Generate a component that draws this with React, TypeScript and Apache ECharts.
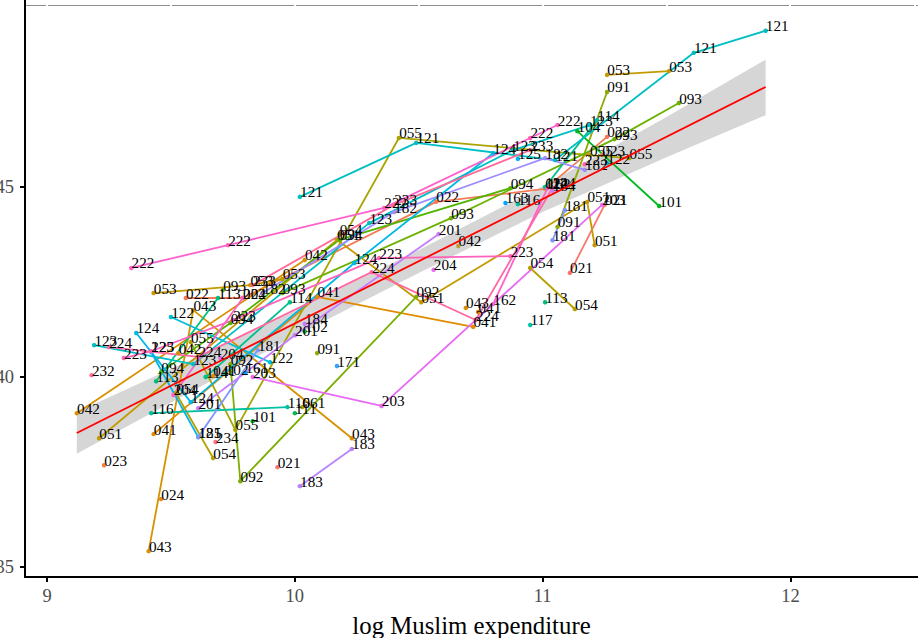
import React, { useEffect, useRef } from "react";
import * as echarts from "echarts";

// [log Muslim expenditure, outcome, optional label override]
const id021a = [[9.93, 37.63]];
const id021b = [[11.11, 42.74], [11.25, 44.53]];
const id022 = [[9.56, 42.08], [9.79, 42.08], [10.57, 44.61], [11.01, 44.95], [11.26, 46.32]];
const id023a = [[9.23, 37.68]];
const id023b = [[11.24, 45.84]];
const id024 = [[9.46, 36.79]];
const id041a = [[9.43, 38.5], [10.09, 42.11], [10.72, 41.32]];
const id041b = [[10.74, 41.71]];
const id041c = [[9.67, 40.03]];
const id042a = [[9.12, 39.05], [10.04, 43.08]];
const id042b = [[10.66, 43.45]];
const id042c = [[9.53, 40.63]];
const id043a = [[9.41, 35.42], [9.59, 41.76], [10.23, 38.39]];
const id043b = [[10.69, 41.82]];
const id051 = [[9.21, 38.39], [10.17, 43.61], [10.51, 41.97], [11.18, 44.61], [11.21, 43.47]];
const id053a = [[9.43, 42.21], [9.82, 42.42], [9.95, 42.58]];
const id053b = [[11.26, 47.95], [11.51, 48.05]];
const id054a = [[9.52, 39.58], [9.67, 37.87]];
const id054b = [[10.95, 42.87], [11.13, 41.79]];
const id054c = [[10.18, 43.76]];
const id055 = [[9.58, 40.92], [9.76, 38.61], [10.42, 46.29], [11.19, 45.84], [11.35, 45.76]];
const id061 = [[10.03, 39.21]];
const id091a = [[10.09, 40.63]];
const id091b = [[11.06, 43.95], [11.26, 47.5]];
const id092 = [[9.74, 40.34], [9.78, 37.26], [10.49, 42.11]];
const id093a = [[9.71, 42.29]];
const id093b = [[9.95, 42.21], [10.63, 44.18], [11.29, 46.26], [11.55, 47.21]];
const id094 = [[9.46, 40.13], [9.74, 41.42], [10.18, 43.61], [10.87, 44.97]];
const id101a = [[11.47, 44.5], [11.14, 46.47, "104"]];
const id101b = [[9.83, 38.84]];
const id102a = [[10.04, 41.2]];
const id102b = [[9.72, 40.08]];
const id111 = [[10.0, 39.05]];
const id113a = [[9.44, 39.89], [9.69, 42.08]];
const id113b = [[11.01, 41.97]];
const id114a = [[9.64, 40.0], [9.98, 41.97]];
const id114b = [[11.01, 45.0], [11.22, 46.76]];
const id116a = [[9.42, 39.05], [9.97, 39.21]];
const id116b = [[10.9, 44.55]];
const id117 = [[10.95, 41.37]];
const id121 = [[10.02, 44.74], [10.49, 46.16], [11.05, 45.71], [11.61, 48.53], [11.9, 49.11]];
const id122a = [[9.5, 41.58], [9.9, 40.39]];
const id122b = [[11.26, 45.63]];
const id123 = [[9.19, 40.84], [9.59, 40.34], [10.3, 44.05], [10.88, 45.97], [11.19, 46.63]];
const id124 = [[9.36, 41.16], [9.58, 39.34], [10.24, 43.0], [10.8, 45.89]];
const id125a = [[9.42, 40.66], [9.61, 38.42]];
const id125b = [[10.9, 45.74]];
const id161 = [[9.8, 40.11]];
const id162 = [[10.8, 41.92], [11.02, 44.97]];
const id163 = [[10.85, 44.58]];
const id171 = [[10.17, 40.29]];
const id181a = [[9.61, 38.42], [9.85, 40.71]];
const id181b = [[11.04, 43.6], [11.09, 44.39]];
const id182 = [[9.87, 42.21], [10.4, 44.34], [11.01, 45.76], [11.17, 45.45]];
const id183 = [[10.02, 37.13], [10.23, 38.11]];
const id184a = [[10.04, 41.4]];
const id184b = [[11.04, 44.9]];
const id201 = [[9.61, 39.18], [10.0, 41.1], [10.58, 43.76]];
const id203 = [[9.83, 40.0], [10.35, 39.24], [11.24, 44.53]];
const id204a = [[9.51, 39.53], [9.79, 42.08]];
const id204b = [[10.56, 42.82]];
const id204c = [[9.7, 40.5]];
const id222 = [[9.34, 42.87], [9.73, 43.47], [10.36, 44.45], [10.95, 46.29], [11.06, 46.63]];
const id223a = [[9.31, 40.5], [9.42, 40.68], [9.75, 41.5], [10.34, 43.13], [10.87, 43.18]];
const id223b = [[11.17, 45.6]];
const id224 = [[9.25, 40.79], [9.61, 40.53], [10.31, 42.76], [10.73, 41.5], [11.04, 44.98]];
const id232 = [[9.18, 40.05]];
const id233 = [[9.83, 42.42], [10.4, 44.53], [10.95, 45.97]];
const id234 = [[9.68, 38.29]];

const groups: [string, any[], string][] = [
  ["021", id021a, "#F8766D"], ["021", id021b, "#F8766D"], ["022", id022, "#F37B59"],
  ["023", id023a, "#ED8141"], ["023", id023b, "#ED8141"], ["024", id024, "#E7861B"],
  ["041", id041a, "#E08B00"], ["041", id041b, "#E08B00"], ["041", id041c, "#E08B00"],
  ["042", id042a, "#D89000"], ["042", id042b, "#BB9D35"], ["042", id042c, "#D89000"],
  ["043", id043a, "#D69100"], ["043", id043b, "#D69100"],
  ["051", id051, "#C49A00"], ["053", id053a, "#C49A00"], ["053", id053b, "#C49A00"],
  ["054", id054a, "#B79F00"], ["054", id054b, "#B79F00"], ["054", id054c, "#B79F00"],
  ["055", id055, "#A9A400"], ["061", id061, "#A3A500"], ["091", id091a, "#8FAA00"],
  ["091", id091b, "#8FAA00"], ["092", id092, "#7CAE00"], ["093", id093a, "#6BB100"],
  ["093", id093b, "#6BB100"], ["094", id094, "#53B400"], ["101", id101a, "#00B81F"],
  ["101", id101b, "#00B81F"], ["102", id102a, "#00BB45"], ["102", id102b, "#00BB45"],
  ["111", id111, "#00BC59"], ["113", id113a, "#00BF7D"], ["113", id113b, "#00BF7D"],
  ["114", id114a, "#00C08B"], ["114", id114b, "#00C08B"], ["116", id116a, "#00C19F"],
  ["116", id116b, "#00C19F"], ["117", id117, "#00C1AB"], ["121", id121, "#00BFC4"],
  ["122", id122a, "#00BCD8"], ["122", id122b, "#00BCD8"], ["123", id123, "#00BFC4"],
  ["124", id124, "#00B8E7"], ["125", id125a, "#00B4EF"], ["125", id125b, "#00B4EF"],
  ["161", id161, "#00A9FF"], ["162", id162, "#FF61CC"], ["163", id163, "#00A9FF"],
  ["171", id171, "#35A2FF"], ["181", id181a, "#7F96FF"], ["181", id181b, "#7F96FF"],
  ["182", id182, "#9F8CFF"], ["183", id183, "#B983FF"], ["184", id184a, "#C77CFF"],
  ["184", id184b, "#C77CFF"], ["201", id201, "#C77CFF"], ["203", id203, "#E76BF3"],
  ["204", id204a, "#FF61C3"], ["204", id204b, "#E76BF3"], ["204", id204c, "#E76BF3"],
  ["222", id222, "#FF61CC"], ["223", id223a, "#FF62BC"], ["223", id223b, "#FF62BC"],
  ["224", id224, "#FF67A4"], ["232", id232, "#FF6C91"], ["233", id233, "#FF6A98"],
  ["234", id234, "#FC717F"],
];

const fitLine = [[9.12, 38.53], [11.9, 47.63]];
const ribbonX = [9.12, 9.5, 10, 10.5, 11, 11.5, 11.9];
const ribbonHigh = [39.08, 40.21, 41.74, 43.34, 45.02, 46.84, 48.35];
const ribbonLow = [37.98, 39.33, 41.08, 42.74, 44.34, 45.78, 46.89];

const xTicks = [9, 10, 11, 12];
const yTicks = [35, 40, 45];
const topSegments = [[26, 46], [48, 170], [172, 294], [296, 418], [420, 542], [544, 666], [668, 789], [791, 914], [916, 918]];

export default function App() {
  const ref = useRef<HTMLDivElement>(null);
  useEffect(() => {
    const chart = echarts.init(ref.current!, undefined, { renderer: "svg" });
    const lineSeries = groups.map(([name, pts, color]) => ({
      type: "line",
      name,
      z: 3,
      silent: true,
      showSymbol: true,
      showAllSymbol: true,
      symbol: "circle",
      symbolSize: 4.5,
      itemStyle: { color },
      lineStyle: { color, width: 1.8 },
      data: pts.map((p: any[]) => ({ value: [p[0], p[1]], lab: p[2] || name })),
      label: {
        show: true,
        position: "right",
        distance: -2,
        offset: [0, -5],
        color: "#000",
        fontSize: 15.2,
        fontFamily: "Liberation Serif",
        formatter: (p: any) => p.data.lab,
      },
    }));
    chart.setOption({
      animation: false,
      textStyle: { fontFamily: "Liberation Serif" },
      grid: { left: 25, right: 0, top: 0, bottom: 61, containLabel: false, outerBoundsMode: "none" },
      xAxis: {
        type: "value",
        min: 8.911,
        max: 12.515,
        name: "log Muslim expenditure",
        nameLocation: "middle",
        nameGap: 36,
        nameTextStyle: { fontSize: 24.8, color: "#000", fontFamily: "Liberation Serif" },
        splitLine: { show: false },
        axisLine: { show: true, onZero: false, lineStyle: { color: "#000", width: 2 } },
        axisTick: { show: true, length: 5, customValues: xTicks, lineStyle: { color: "#000", width: 2 } },
        axisLabel: { customValues: xTicks, fontSize: 18.5, color: "#4D4D4D", margin: 9, fontFamily: "Liberation Serif" },
      },
      yAxis: {
        type: "value",
        min: 34.74,
        max: 49.92,
        splitLine: { show: false },
        axisLine: { show: true, onZero: false, lineStyle: { color: "#000", width: 2 } },
        axisTick: { show: true, length: 5, customValues: yTicks, lineStyle: { color: "#000", width: 2 } },
        axisLabel: { customValues: yTicks, fontSize: 18.5, color: "#4D4D4D", margin: 11, fontFamily: "Liberation Serif" },
      },
      graphic: topSegments.map(([a, b]) => ({
        type: "line",
        silent: true,
        shape: { x1: a, y1: 5.5, x2: b, y2: 5.5 },
        style: { stroke: "#8f8f8f", lineWidth: 1 },
      })),
      series: [
        {
          type: "custom",
          z: 1,
          silent: true,
          data: [[ribbonX[0], ribbonLow[0]]],
          renderItem: (_: any, api: any) => {
            const up = ribbonX.map((x, i) => api.coord([x, ribbonHigh[i]]));
            const down = ribbonX.map((x, i) => api.coord([x, ribbonLow[i]])).reverse();
            return { type: "polygon", shape: { points: up.concat(down) }, style: { fill: "#D6D6D6" } };
          },
        },
        ...lineSeries,
        {
          type: "line",
          z: 4,
          silent: true,
          showSymbol: false,
          data: fitLine,
          lineStyle: { color: "#FF0000", width: 1.8 },
        },
      ],
    });
    return () => chart.dispose();
  }, []);
  return <div ref={ref} style={{ position: "fixed", left: 0, top: 0, width: 918, height: 638, background: "#fff" }} />;
}
